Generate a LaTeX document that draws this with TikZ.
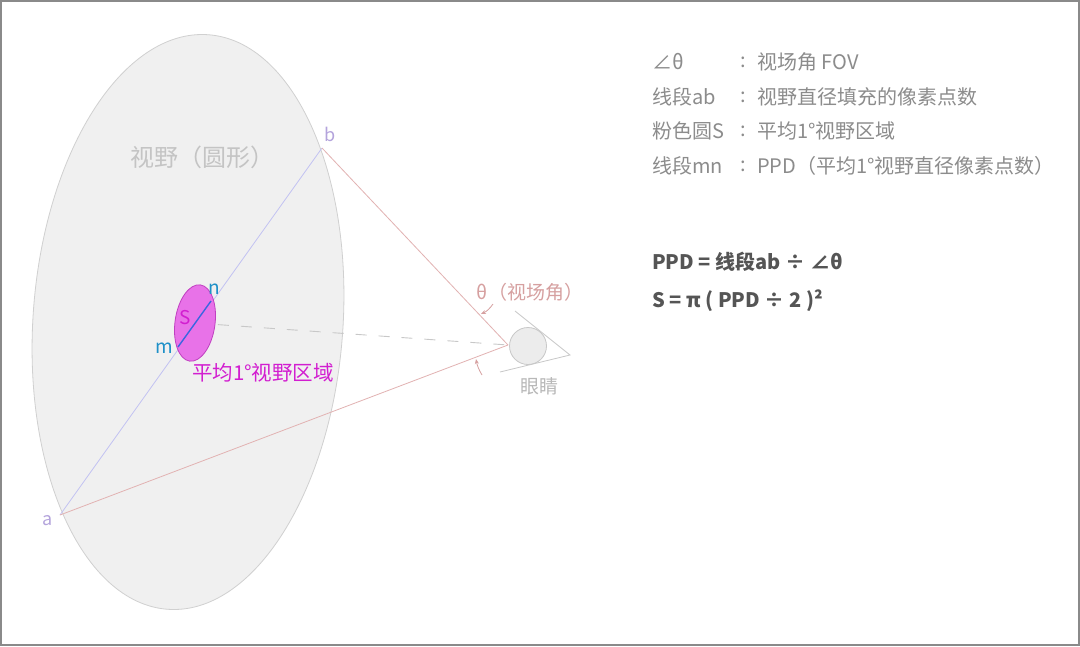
\documentclass[tikz,border=0pt]{standalone}
\usepackage{fontspec}
\setmainfont{Noto Sans CJK SC}
\usetikzlibrary{arrows.meta}
\definecolor{fieldfill}{HTML}{F0F0F0}
\definecolor{fielddraw}{HTML}{D0D0D0}
\definecolor{ablue}{HTML}{C2C2F2}
\definecolor{salmon}{HTML}{E2B2B2}
\definecolor{lav}{HTML}{B4A4DC}
\definecolor{ltxt}{HTML}{C4C4C4}
\definecolor{pinkfill}{HTML}{E872E8}
\definecolor{pinkdraw}{HTML}{C040C0}
\definecolor{mnblue}{HTML}{3A66E0}
\definecolor{mnlab}{HTML}{1E90C8}
\definecolor{magtxt}{HTML}{D21ED0}
\definecolor{thetatxt}{HTML}{D6A0A0}
\definecolor{eyefill}{HTML}{ECECEC}
\definecolor{eyedraw}{HTML}{C8C8C8}
\definecolor{eyetxt}{HTML}{B8B8B8}
\definecolor{legtxt}{HTML}{8C8C8C}
\definecolor{formtxt}{HTML}{555555}
\definecolor{framec}{HTML}{8A8A8A}
\tikzset{
  legend/.style={anchor=west, inner sep=0pt, text=legtxt, font=\fontsize{20}{23}\selectfont},
  formula/.style={anchor=west, inner sep=0pt, text=formtxt, font=\fontsize{20}{23}\selectfont\bfseries},
  ptlab/.style={inner sep=0pt, text=lav, font=\fontsize{18}{20}\selectfont},
  salline/.style={draw=salmon, line width=0.8pt},
  thetaarrow/.style={draw=thetatxt, line width=0.8pt, -{Stealth[length=5pt,width=4pt]}},
  eyeline/.style={draw=eyedraw, line width=0.8pt}
}
\begin{document}
\begin{tikzpicture}[x=1pt,y=-1pt]
\useasboundingbox (0,0) rectangle (1080,646);
\fill[white] (0,0) rectangle (1080,646);
\draw[framec, line width=1.6pt] (0.8,0.8) rectangle (1079.2,645.2);
% field of view ellipse
\draw[fill=fieldfill, draw=fielddraw, line width=0.8pt, rotate around={-4:(188,322)}] (188,322) ellipse [x radius=155, y radius=288];
\node[text=ltxt, font=\fontsize{24}{27}\selectfont, inner sep=0pt] (fovlab) at (202,157) {视野（圆形）};
% points
\coordinate (a) at (60,515);
\coordinate (b) at (322,148);
\coordinate (apex) at (508,345);
\coordinate (pc) at (195,323);
\node[ptlab] (alab) at (48,521) {a};
\node[ptlab] (blab) at (330,134) {b};
% lines
\draw[ablue, line width=0.8pt] (a) -- (b);
\draw[salline] (a) -- (apex);
\draw[salline] (b) -- (apex);
\draw[eyedraw, line width=0.9pt, dash pattern=on 11pt off 12pt] (pc) -- (apex);
% pink circle
\draw[fill=pinkfill, draw=pinkdraw, line width=0.8pt, rotate around={-8:(pc)}] (pc) ellipse [x radius=20, y radius=38.5];
\coordinate (m) at (178,347);
\coordinate (n) at (211,301);
\draw[mnblue, line width=1.4pt] (m) -- (n);
\node[text=mnlab, font=\fontsize{19}{21}\selectfont, inner sep=0pt] (nlab) at (214,289) {n};
\node[text=mnlab, font=\fontsize{19}{21}\selectfont, inner sep=0pt] (mlab) at (164,348) {m};
\node[text=magtxt, font=\fontsize{19}{21}\selectfont, inner sep=0pt] (slab) at (185,318) {S};
\node[text=magtxt, font=\fontsize{20.5}{23}\selectfont, inner sep=0pt] (arealab) at (263,373) {平均1°视野区域};
% eye
\node[circle, fill=eyefill, draw=eyedraw, line width=0.8pt, minimum size=37pt, inner sep=0pt] (eye) at (528,346) {};
\coordinate (ct) at (515,311);
\coordinate (cb) at (500,372);
\coordinate (cr) at (570,355);
\draw[eyeline] (ct) -- (cr) -- (cb);
\node[text=eyetxt, font=\fontsize{19}{21}\selectfont, inner sep=0pt] (eyelab) at (539,386) {眼睛};
% theta
\node[text=thetatxt, font=\fontsize{19}{22}\selectfont, inner sep=0pt] (thlab) at (530,292) {θ（视场角）};
\coordinate (t1s) at (493,304);
\coordinate (t1e) at (481,314);
\draw[thetaarrow] (t1s) to[bend left=15] (t1e);
\coordinate (t2s) at (482,375);
\coordinate (t2e) at (476,359);
\draw[thetaarrow] (t2s) to[bend left=10] (t2e);
% legend
\node[legend] (l1a) at (652,62) {∠θ};
\node[legend] (l1b) at (740,62) {:};
\node[legend] (l1c) at (757,62) {视场角 FOV};
\node[legend] (l2a) at (652,97) {线段ab};
\node[legend] (l2b) at (740,97) {:};
\node[legend] (l2c) at (757,97) {视野直径填充的像素点数};
\node[legend] (l3a) at (652,131) {粉色圆S};
\node[legend] (l3b) at (740,131) {:};
\node[legend] (l3c) at (757,131) {平均1°视野区域};
\node[legend] (l4a) at (652,166) {线段mn};
\node[legend] (l4b) at (740,166) {:};
\node[legend] (l4c) at (757,166) {PPD（平均1°视野直径像素点数）};
% formulas
\node[formula] (f1) at (652,262) {PPD\ =\ 线段ab\ ÷\ ∠θ};
\node[formula] (f2) at (652,301) {S\ =\ π\ (\ PPD\ ÷\ 2\ )²};
\end{tikzpicture}
\end{document}
